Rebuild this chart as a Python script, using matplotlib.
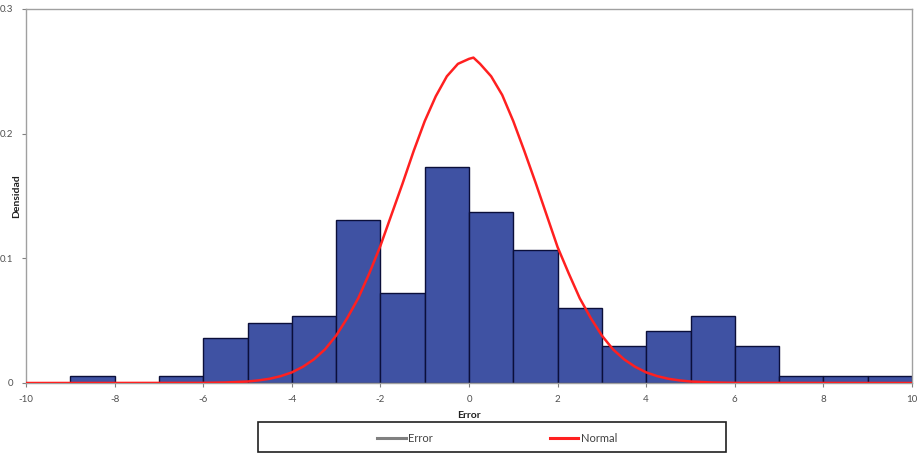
import matplotlib
matplotlib.use("Agg")
import numpy as np
from matplotlib import pyplot as plt
from matplotlib.patches import Rectangle

plt.rcParams['font.family'] = ['Lato', 'DejaVu Sans']

# histogram of the errors: bin edges and density
bin_edges = [-10, -9, -8, -7, -6, -5, -4, -3, -2, -1, 0,
             1, 2, 3, 4, 5, 6, 7, 8, 9, 10]
density = [0.0, 0.006, 0.0, 0.006, 0.036, 0.048, 0.054, 0.131, 0.072, 0.173,
           0.137, 0.107, 0.060, 0.030, 0.042, 0.054, 0.030, 0.006, 0.006, 0.006]

# fitted normal curve
normal_x = [-10, -6, -5.5, -5, -4.75, -4.5, -4.25, -4, -3.75, -3.5, -3.25,
            -3, -2.75, -2.5, -2.25, -2, -1.75, -1.5, -1.25, -1, -0.75, -0.5,
            -0.25, 0, 0.1, 0.25, 0.5, 0.75, 1, 1.25, 1.5, 1.75, 2, 2.25, 2.5,
            2.75, 3, 3.25, 3.5, 3.75, 4, 4.25, 4.5, 4.75, 5, 5.5, 6, 10]
normal_y = [0, 0.0001, 0.0004, 0.0012, 0.0021, 0.0034, 0.0055, 0.0085, 0.013,
            0.019, 0.027, 0.038, 0.052, 0.068, 0.088, 0.110, 0.135, 0.160,
            0.186, 0.210, 0.230, 0.246, 0.256, 0.260, 0.261, 0.256, 0.246,
            0.231, 0.210, 0.186, 0.161, 0.135, 0.109, 0.088, 0.068, 0.052,
            0.038, 0.027, 0.019, 0.013, 0.0085, 0.0055, 0.0034, 0.0021,
            0.0012, 0.0004, 0.0001, 0]

xticks = [-10, -8, -6, -4, -2, 0, 2, 4, 6, 8, 10]
yticks = [0, 0.1, 0.2, 0.3]
ytick_labels = ['0', '0.1', '0.2', '0.3']

W, H = 919, 454
fig = plt.figure(figsize=(W / 100, H / 100), dpi=100)
ax = fig.add_axes([26 / W, 1 - 383 / H, (912 - 26) / W, (383 - 9) / H])

lefts = np.array(bin_edges[:-1])
widths = np.diff(bin_edges)
ax.bar(lefts, density, width=widths, align='edge', color='#3F52A3',
       edgecolor='#0B0F3A', linewidth=1.0, zorder=2)
ax.plot(normal_x, normal_y, color='#FF2020', linewidth=1.8, zorder=3,
        solid_joinstyle='round')

ax.set_xlim(-10, 10)
ax.set_ylim(0, 0.3)
ax.set_xticks(xticks)
ax.set_xticklabels([str(t) for t in xticks])
ax.set_yticks(yticks)
ax.set_yticklabels(ytick_labels)
ax.tick_params(axis='both', labelsize=7, colors='#808080', labelcolor='#505050',
               length=3, width=0.8, pad=6)

for sp in ax.spines.values():
    sp.set_color('#A0A0A0')
    sp.set_linewidth(1.0)

ax.set_xlabel('Error', fontsize=7.5, fontweight='bold', color='#202020')
ax.xaxis.label.set_va('center')
ax.xaxis.set_label_coords(0.5, (383 - 416) / 374)
ax.set_ylabel('Densidad', fontsize=7.5, fontweight='bold', color='#202020')
ax.yaxis.label.set_va('center')
ax.yaxis.set_label_coords((17 - 26) / 886, 0.5)

# legend box below the plot
fig.patches.append(Rectangle((258 / W, 1 - 452 / H), (726 - 258) / W,
                             (452 - 422) / H, transform=fig.transFigure,
                             facecolor='white', edgecolor='#202020',
                             linewidth=1.2))
h_err, = ax.plot([], [], color='#808080', linewidth=2.2)
h_norm, = ax.plot([], [], color='#FF2020', linewidth=2.2)
fig.legend([h_err, h_norm], ['Error', 'Normal'], loc='center',
           bbox_to_anchor=(497 / W, 1 - 438 / H), ncol=2, frameon=False,
           fontsize=8, handlelength=2.6, handletextpad=0.2,
           columnspacing=10.5, labelcolor='#404040')

fig.savefig('out.png', dpi=100)
